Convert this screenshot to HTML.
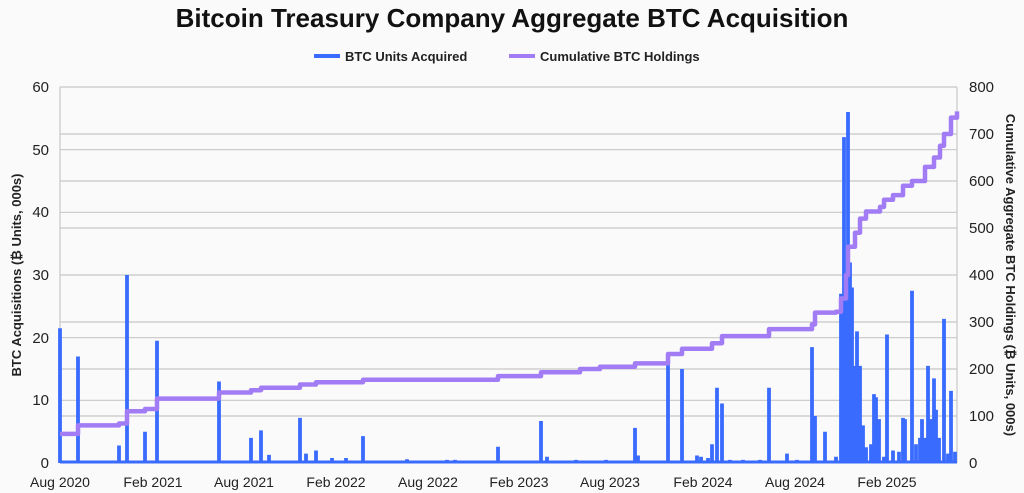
<!DOCTYPE html>
<html><head><meta charset="utf-8"><style>
html,body{margin:0;padding:0;background:#fafafa;}
svg{display:block;font-family:"Liberation Sans",Arial,sans-serif;}
</style></head><body>
<svg width="1024" height="493" viewBox="0 0 1024 493">
<rect width="1024" height="493" fill="#fafafa"/>
<text x="512" y="27" text-anchor="middle" font-size="26" font-weight="bold" fill="#111">Bitcoin Treasury Company Aggregate BTC Acquisition</text>
<line x1="314" y1="56" x2="340" y2="56" stroke="#3a6bff" stroke-width="4"/>
<text x="345" y="61" font-size="13" font-weight="bold" fill="#222">BTC Units Acquired</text>
<line x1="509" y1="56" x2="535" y2="56" stroke="#a27cf5" stroke-width="4"/>
<text x="540" y="61" font-size="13" font-weight="bold" fill="#222">Cumulative BTC Holdings</text>
<g stroke="#c8c8c8" stroke-width="1.2">
<line x1="60" y1="87" x2="957" y2="87"/><line x1="60" y1="149.7" x2="957" y2="149.7"/><line x1="60" y1="212.3" x2="957" y2="212.3"/><line x1="60" y1="275" x2="957" y2="275"/><line x1="60" y1="337.7" x2="957" y2="337.7"/><line x1="60" y1="400.3" x2="957" y2="400.3"/>
<line x1="60" y1="134" x2="957" y2="134"/><line x1="60" y1="181" x2="957" y2="181"/><line x1="60" y1="228" x2="957" y2="228"/><line x1="60" y1="322" x2="957" y2="322"/><line x1="60" y1="369" x2="957" y2="369"/><line x1="60" y1="416" x2="957" y2="416"/>
<line x1="60" y1="87" x2="60" y2="463"/><line x1="957" y1="87" x2="957" y2="463"/>
</g>
<g font-size="15" fill="#222" text-anchor="end">
<text x="49" y="92">60</text><text x="49" y="155">50</text><text x="49" y="217">40</text><text x="49" y="280">30</text><text x="49" y="343">20</text><text x="49" y="405">10</text><text x="49" y="468">0</text>
</g>
<g font-size="15" fill="#222" text-anchor="start">
<text x="969" y="92">800</text><text x="969" y="139">700</text><text x="969" y="186">600</text><text x="969" y="233">500</text><text x="969" y="280">400</text><text x="969" y="327">300</text><text x="969" y="374">200</text><text x="969" y="421">100</text><text x="969" y="468">0</text>
</g>
<g font-size="14" fill="#222" text-anchor="middle">
<text x="60" y="487">Aug 2020</text><text x="153" y="487">Feb 2021</text><text x="244" y="487">Aug 2021</text><text x="336" y="487">Feb 2022</text><text x="428" y="487">Aug 2022</text><text x="519" y="487">Feb 2023</text><text x="610" y="487">Aug 2023</text><text x="703" y="487">Feb 2024</text><text x="795" y="487">Aug 2024</text><text x="887" y="487">Feb 2025</text>
</g>
<text transform="translate(21,275) rotate(-90)" text-anchor="middle" font-size="13" font-weight="bold" fill="#222">BTC Acquisitions (₿ Units, 000s)</text>
<text transform="translate(1006,275) rotate(90)" text-anchor="middle" font-size="13" font-weight="bold" fill="#222">Cumulative Aggregate BTC Holdings (₿ Units, 000s)</text>
<path fill="none" stroke="#3a6bff" stroke-width="3.8" d="M60 463V328.3 M78 463V356.5 M119 463V445.5 M127 463V275 M145 463V431.7 M157 463V340.8 M219 463V381.5 M251 463V437.9 M261 463V430.4 M269 463V454.9 M300 463V417.9 M306 463V453.6 M316 463V450.5 M332 463V458 M346 463V458 M363 463V436.1 M407 463V459.2 M447 463V459.9 M455 463V459.9 M498 463V446.7 M541 463V421 M547 463V456.7 M576 463V459.9 M606 463V459.9 M635 463V427.9 M638 463V455.5 M668 463V362.7 M682 463V369 M697 463V455.5 M701 463V456.7 M708 463V458 M712 463V444.2 M717 463V387.8 M722 463V403.5 M730 463V459.9 M743 463V459.9 M760 463V459.9 M769 463V387.8 M787 463V453.6 M797 463V459.9 M812 463V347.1 M815 463V416 M825 463V431.7 M836 463V456.7 M841 463V293.8 M842 463V306.3 M844 463V137.1 M846 463V275 M848 463V112 M850 463V262.5 M852 463V287.5 M854 463V365.9 M857 463V331.4 M860 463V365.9 M863 463V425.4 M866 463V447.3 M871 463V444.2 M874 463V394.1 M876 463V397.2 M879 463V419.1 M884 463V456.7 M887 463V334.5 M893 463V450.5 M899 463V451.7 M903 463V417.9 M905 463V419.1 M912 463V290.7 M916 463V444.2 M920 463V437.9 M922 463V419.1 M925 463V437.9 M928 463V365.9 M930 463V419.1 M932 463V419.1 M934 463V378.4 M936 463V409.7 M939 463V437.9 M944 463V318.9 M948 463V453.6 M951 463V390.9 M955 463V451.7"/>
<line x1="60" y1="462" x2="957" y2="462" stroke="#3a6bff" stroke-width="3"/>
<path fill="none" stroke="#a27cf5" stroke-width="4.5" stroke-linejoin="round" d="M60 433.9 H78 V425.4 H119 V423.5 H127 V411.3 H145 V409 H157 V398.6 H219 V392.5 H251 V390.2 H261 V387.8 H300 V384.5 H316 V382.2 H363 V379.8 H498 V376.1 H541 V372.3 H580 V369 H600 V366.7 H635 V363.4 H668 V354 H682 V348.8 H712 V343.2 H722 V336.1 H769 V329.1 H812 V324.4 H815 V312.6 H836 V311.7 H841 V298.5 H846 V275 H848 V246.8 H855 V232.7 H860 V218.6 H866 V211.5 H880 V206.9 H884 V199.8 H893 V195.1 H903 V185.7 H912 V181 H925 V166.9 H934 V157.5 H940 V145.8 H944 V134 H951 V117.6 H957 V111.4"/>
</svg>
</body></html>
